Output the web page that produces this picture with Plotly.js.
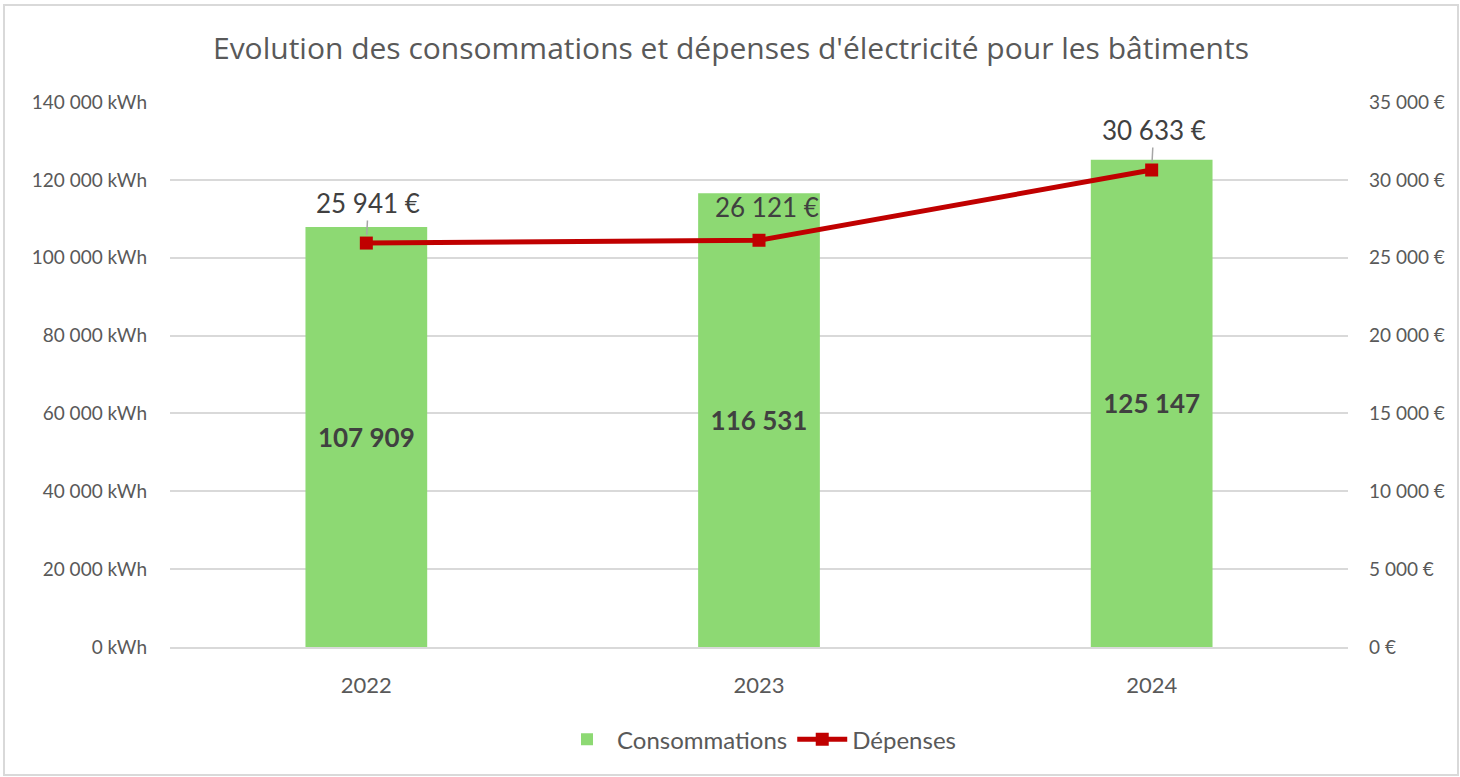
<!DOCTYPE html>
<html>
<head>
<meta charset="utf-8">
<script src="https://cdn.plot.ly/plotly-3.0.1.min.js"></script>
<style>
  html, body { margin: 0; padding: 0; background: #fff; }
  #frame { position: absolute; left: 3px; top: 4px; width: 1452px; height: 768px; border: 2px solid #d9d9d9; }
  #chart { width: 1452px; height: 768px; }
</style>
</head>
<body>
<div id="frame"><div id="chart"></div></div>
<script>
const years = [2022, 2023, 2024];
const yearLabels = ['2022', '2023', '2024'];
const consommations = [107909, 116531, 125147];
const depenses = [25941, 26121, 30633];
const labelOffsets = [-40, -33, -40];
const labelArrows = [true, false, true];

const gray = '#595959';
const font = 'Lato, "Open Sans", sans-serif';

function fmtEuro(v) {
  return String(v).replace(/\B(?=(\d{3})+(?!\d))/g, ' ') + ' €';
}

const traces = [
  {
    type: 'bar', name: 'Consommations', x: years, y: consommations,
    marker: { color: '#8dd973' },
    texttemplate: '%{y:,d}', textposition: 'inside', insidetextanchor: 'middle',
    textfont: { family: font, size: 26, color: '#404040', weight: 'bold' },
    constraintext: 'none', textangle: 0, hoverinfo: 'x+y'
  },
  {
    type: 'scatter', mode: 'lines+markers', name: 'Dépenses', x: years, y: depenses, yaxis: 'y2',
    line: { color: '#c00000', width: 5 },
    marker: { symbol: 'square', size: 13, color: '#c00000' }
  }
];

const annotations = years.map((yr, i) => labelArrows[i] ? {
  x: yr, y: depenses[i], xref: 'x', yref: 'y2',
  text: fmtEuro(depenses[i]),
  showarrow: true, arrowhead: 0, arrowwidth: 1.5, arrowcolor: '#a6a6a6', standoff: 8,
  ax: 2, ay: labelOffsets[i],
  font: { family: font, size: 26, color: '#404040' }
} : {
  x: yr, y: depenses[i], xref: 'x', yref: 'y2',
  text: fmtEuro(depenses[i]),
  showarrow: false, yshift: -labelOffsets[i], xshift: 8,
  font: { family: font, size: 26, color: '#404040' }
});

const layout = {
  width: 1452, height: 768,
  margin: { l: 165, r: 109, t: 96, b: 125 },
  paper_bgcolor: '#fff', plot_bgcolor: '#fff',
  separators: ', ',
  font: { family: font, color: gray },
  title: { text: "Evolution des consommations et dépenses d'électricité pour les bâtiments",
           font: { family: '"Open Sans", sans-serif', size: 30, color: gray }, x: 0.5, xanchor: 'center', y: 0.945, yanchor: 'middle' },
  bargap: 0.69,
  xaxis: { range: [2021.5, 2024.5], tickvals: years, ticktext: yearLabels, tickfont: { size: 22, color: gray },
           showline: true, linecolor: '#d9d9d9', linewidth: 1.5, ticks: '', showgrid: false, zeroline: false, ticklabelstandoff: 18 },
  yaxis: { range: [0, 140000], dtick: 20000, tickformat: ',d', ticksuffix: ' kWh',
           tickfont: { size: 19, color: gray }, gridcolor: '#d9d9d9', gridwidth: 1.5, zeroline: false, ticklen: 0, ticklabelstandoff: 22 },
  yaxis2: { range: [0, 35000], dtick: 5000, tickformat: ',d', ticksuffix: ' €', overlaying: 'y', side: 'right',
            showgrid: false, zeroline: false, tickfont: { size: 19, color: gray }, ticklabelstandoff: 20 },
  legend: { orientation: 'h', x: 0.5, xanchor: 'center', y: -0.17, yanchor: 'middle',
            font: { size: 24, color: gray }, itemwidth: 50 },
  annotations: annotations,
  showlegend: true
};

Plotly.newPlot('chart', traces, layout, { displayModeBar: false });
</script>
</body>
</html>
